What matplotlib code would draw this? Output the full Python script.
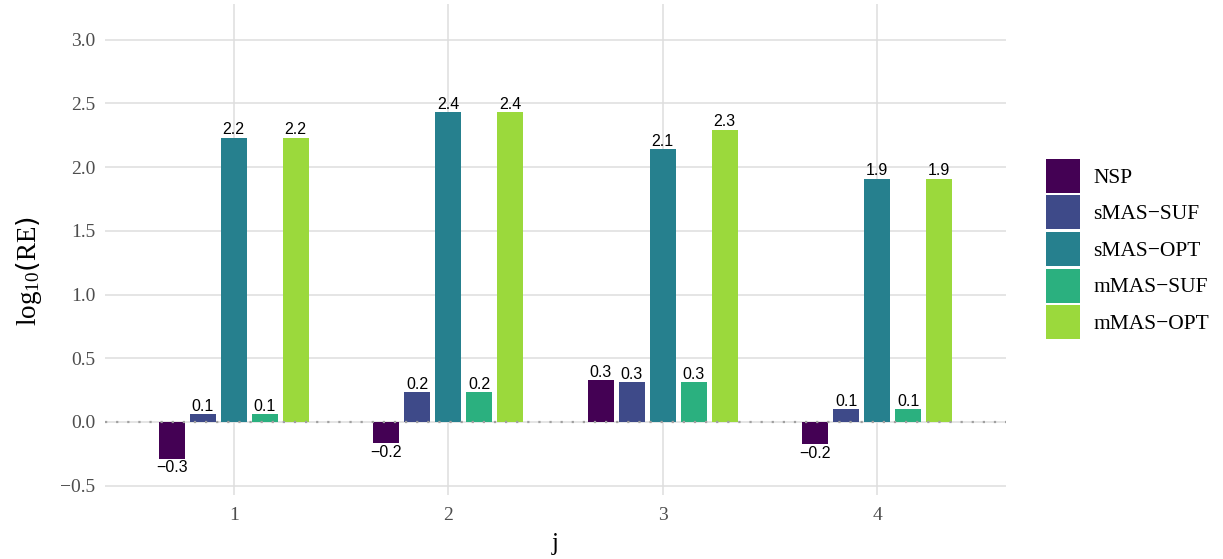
import matplotlib
matplotlib.use("Agg")
import matplotlib.pyplot as plt
import numpy as np
from matplotlib.patches import Patch

groups = [1, 2, 3, 4]
series = ["NSP", "sMAS\u2212SUF", "sMAS\u2212OPT", "mMAS\u2212SUF", "mMAS\u2212OPT"]
values = {
    "NSP":        [-0.29, -0.168, 0.33, -0.175],
    "sMAS\u2212SUF":   [0.063, 0.236, 0.314, 0.102],
    "sMAS\u2212OPT":   [2.23, 2.43, 2.14, 1.908],
    "mMAS\u2212SUF":   [0.063, 0.236, 0.314, 0.102],
    "mMAS\u2212OPT":   [2.23, 2.43, 2.293, 1.908],
}
colors = ["#440154", "#3E4A89", "#26808E", "#2BB07F", "#9BD93C"]
yticks = [-0.5, 0.0, 0.5, 1.0, 1.5, 2.0, 2.5, 3.0]

fig = plt.figure(figsize=(12.23, 5.59), dpi=100)
ax = fig.add_axes([105/1223, 64/559, (1006-105)/1223, (495-4)/559])

pitch = 0.1444
width = 0.121
x = np.arange(len(groups), dtype=float) + 1
for i, (s, c) in enumerate(zip(series, colors)):
    xs = x + (i - 2) * pitch
    vals = np.array(values[s])
    ax.bar(xs, vals, width=width, color=c, zorder=3)
    for xi, v in zip(xs, vals):
        txt = f"{v:.1f}".replace("-", "\u2212")
        if v >= 0:
            ax.text(xi, v + 0.003, txt, ha="center", va="bottom",
                    fontsize=11.5, family="Liberation Sans", color="black", zorder=4)
        else:
            ax.text(xi, v - 0.012, txt, ha="center", va="top",
                    fontsize=11.5, family="Liberation Sans", color="black", zorder=4)

ax.axhline(0, color="#a0a0a0", linestyle=(0, (1, 4)), linewidth=1.6, zorder=4)

ax.set_xlim(0.4, 4.6)
ax.set_ylim(-0.573, 3.28)
ax.set_xticks(x)
ax.set_xticklabels([str(g) for g in groups])
ax.set_yticks(yticks)
ax.set_yticklabels([f"{t:.1f}".replace("-", "\u2212") for t in yticks])
ax.grid(True, color="#dedede", linewidth=1.1, zorder=0)
ax.set_axisbelow(True)
for sp in ax.spines.values():
    sp.set_visible(False)
ax.tick_params(length=0, labelsize=14, labelcolor="#4d4d4d")
ax.tick_params(axis="x", pad=9)
ax.tick_params(axis="y", pad=7)
for lab in ax.get_xticklabels() + ax.get_yticklabels():
    lab.set_family("Liberation Serif")

ax.set_xlabel("j", family="Liberation Serif", fontsize=18, labelpad=6)
ax.set_ylabel(r"$\mathregular{log_{10}\left(RE\right)}$", family="Liberation Serif", fontsize=19.5)
ax.yaxis.set_label_coords(-0.0843, 0.456)
ax.yaxis.label.set_va("center")

handles = [Patch(facecolor=c, edgecolor="none") for c in colors]
leg = fig.legend(handles, series, loc="center left", bbox_to_anchor=(1037/1223, 0.5546),
                 frameon=False, prop={"family": "Liberation Serif", "size": 15.5},
                 handlelength=1.58, handleheight=2.05, labelspacing=0.12, handletextpad=0.65,
                 borderaxespad=0)

fig.savefig("out.png", dpi=100)
